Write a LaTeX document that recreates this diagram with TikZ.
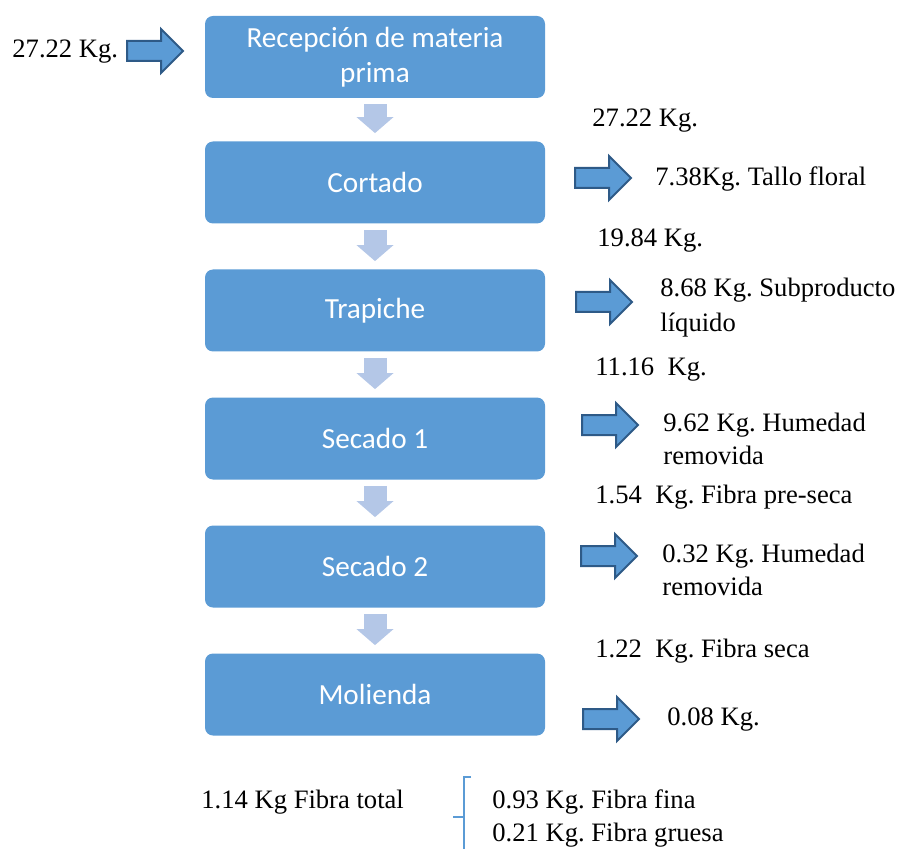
\documentclass[tikz,border=0pt]{standalone}
\usepackage{fontspec}
\setmainfont{Liberation Serif}
\newfontfamily\boxfont{Carlito}
\usetikzlibrary{arrows.meta}
\frenchspacing

\definecolor{procblue}{HTML}{5B9BD5}
\definecolor{paleblue}{HTML}{B4C7E7}
\definecolor{edgeblue}{HTML}{2E5A87}

\tikzset{
  process/.style={rectangle, rounded corners=4pt, fill=procblue, text=white,
    minimum width=170pt, minimum height=41pt, align=center,
    font=\boxfont\fontsize{14.6}{17.5}\selectfont},
  flow/.style={draw=paleblue, line width=11.5pt,
    -{Triangle[width=18.5pt, length=8pt, line width=0pt]},
    shorten <=3pt, shorten >=4pt},
  sidearrow/.pic={
    \draw[fill=procblue, draw=edgeblue, line width=1pt, line join=miter]
      (0,-10) -- (34,-10) -- (34,-22) -- (56,0) -- (34,22) -- (34,10) -- (0,10) -- cycle;
  },
  mass/.style={anchor=base west, inner sep=0pt, align=left,
    font=\fontsize{13.3}{16.5}\selectfont}
}

\begin{document}
\begin{tikzpicture}[x=0.5pt, y=-0.5pt]
  \useasboundingbox (0,0) rectangle (897,849);

  \node[process] (recepcion) at (375,57) {Recepción de materia\\prima};
  \node[process] (cortado) at (375,182.5) {Cortado};
  \node[process] (trapiche) at (375,310.5) {Trapiche};
  \node[process] (secado1) at (375,438.5) {Secado 1};
  \node[process] (secado2) at (375,566.5) {Secado 2};
  \node[process] (molienda) at (375,694.5) {Molienda};

  \draw[flow] (recepcion) -- (cortado);
  \draw[flow] (cortado) -- (trapiche);
  \draw[flow] (trapiche) -- (secado1);
  \draw[flow] (secado1) -- (secado2);
  \draw[flow] (secado2) -- (molienda);

  \node[mass] (massIn) at (12,58) {27.22 Kg.};
  \pic (inArrow) at (127,51) {sidearrow};

  \node[mass] (massCortado) at (592,127) {27.22 Kg.};
  \pic (outArrow1) at (575,178) {sidearrow};
  \node[mass] (tallo) at (655,186) {7.38Kg. Tallo floral};

  \node[mass] (massTrapiche) at (597,247) {19.84 Kg.};
  \pic (outArrow2) at (576,302) {sidearrow};
  \node[mass, font=\fontsize{13.3}{17.5}\selectfont] (liquido) at (660,332) {8.68 Kg. Subproducto\\líquido};

  \node[mass] (massSecado1) at (595,375) {11.16\ \ Kg.};
  \pic (outArrow3) at (582,425) {sidearrow};
  \node[mass] (humedad1) at (663,464) {9.62 Kg. Humedad\\removida};

  \node[mass] (massSecado2) at (595,503) {1.54\ \ Kg. Fibra pre-seca};
  \pic (outArrow4) at (581,556) {sidearrow};
  \node[mass] (humedad2) at (662,595) {0.32 Kg. Humedad\\removida};

  \node[mass] (massMolienda) at (595,657) {1.22\ \ Kg. Fibra seca};
  \pic (outArrow5) at (583,719) {sidearrow};
  \node[mass] (merma) at (667,725) {0.08 Kg.};

  \node[mass] (fibraTotal) at (201,808) {1.14 Kg Fibra total};
  \node[mass] (fibraPartes) at (492,841) {0.93 Kg. Fibra fina\\0.21 Kg. Fibra gruesa};

  % bracket
  \draw[procblue, line width=1pt] (471,777) -- (464,777) -- (464,849);
  \draw[procblue, line width=1pt] (464,817) -- (453,817);

\end{tikzpicture}
\end{document}
